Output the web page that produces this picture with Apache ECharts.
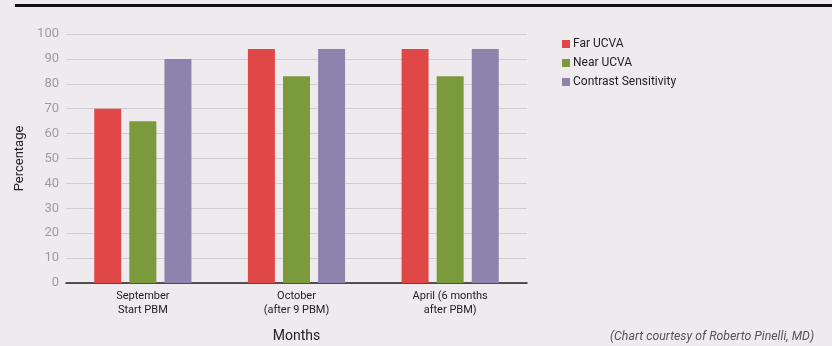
<!DOCTYPE html>
<html>
<head>
<meta charset="utf-8">
<script src="https://cdn.jsdelivr.net/npm/echarts@6/dist/echarts.min.js"></script>
<style>
  html, body { margin: 0; padding: 0; background: #eeeaed; }
  #chart { width: 832px; height: 346px; }
</style>
</head>
<body>
<div id="chart"></div>
<script>
const categories = ['September\nStart PBM', 'October\n(after 9 PBM)', 'April (6 months\nafter PBM)'];
const farUCVA = [70, 94, 94];
const nearUCVA = [65, 83, 83];
const contrastSensitivity = [90, 94, 94];
const yTicks = { min: 0, max: 100, interval: 10 };

const FONT = '"Roboto", "Liberation Sans", sans-serif';

const chart = echarts.init(document.getElementById('chart'));
chart.setOption({
  backgroundColor: '#eeeaed',
  animation: false,
  textStyle: { fontFamily: FONT },
  graphic: [
    { type: 'rect', shape: { x: 15, y: 4, width: 817, height: 3 }, style: { fill: '#111' } },
    {
      type: 'text', left: 610, top: 331,
      style: { text: '(Chart courtesy of Roberto Pinelli, MD)', font: 'italic 12.3px ' + FONT, fill: '#555' }
    }
  ],
  legend: {
    orient: 'vertical', left: 557, top: 32,
    itemWidth: 8, itemHeight: 8, itemGap: 5,
    icon: 'rect',
    textStyle: { fontSize: 12, color: '#222', fontFamily: FONT, padding: [0, 0, 0, -2], lineHeight: 14 },
    data: ['Far UCVA', 'Near UCVA', 'Contrast Sensitivity']
  },
  grid: { left: 66, top: 34, width: 461, height: 249, containLabel: false, outerBoundsMode: 'none' },
  xAxis: {
    type: 'category',
    data: categories,
    name: 'Months', nameLocation: 'middle', nameGap: 46,
    nameTextStyle: { fontSize: 14, color: '#222', fontFamily: FONT },
    axisLine: { lineStyle: { color: '#222', width: 1.5 } },
    axisTick: { show: false },
    axisLabel: { fontSize: 11, color: '#222', lineHeight: 14, margin: 6, fontFamily: FONT }
  },
  yAxis: {
    type: 'value', min: yTicks.min, max: yTicks.max, interval: yTicks.interval,
    name: 'Percentage', nameLocation: 'middle', nameGap: 40,
    nameTextStyle: { fontSize: 13, color: '#222', fontFamily: FONT },
    axisLine: { show: false }, axisTick: { show: false },
    axisLabel: { fontSize: 13, color: '#a09c9e', margin: 7, fontFamily: FONT },
    splitLine: { lineStyle: { color: '#d2cdd0', width: 1 } }
  },
  series: [
    { name: 'Far UCVA', type: 'bar', data: farUCVA, barWidth: 27, barGap: '30%', itemStyle: { color: '#e04848' } },
    { name: 'Near UCVA', type: 'bar', data: nearUCVA, barWidth: 27, itemStyle: { color: '#7b9a3c' } },
    { name: 'Contrast Sensitivity', type: 'bar', data: contrastSensitivity, barWidth: 27, itemStyle: { color: '#8d83ad' } }
  ]
});
</script>
</body>
</html>
